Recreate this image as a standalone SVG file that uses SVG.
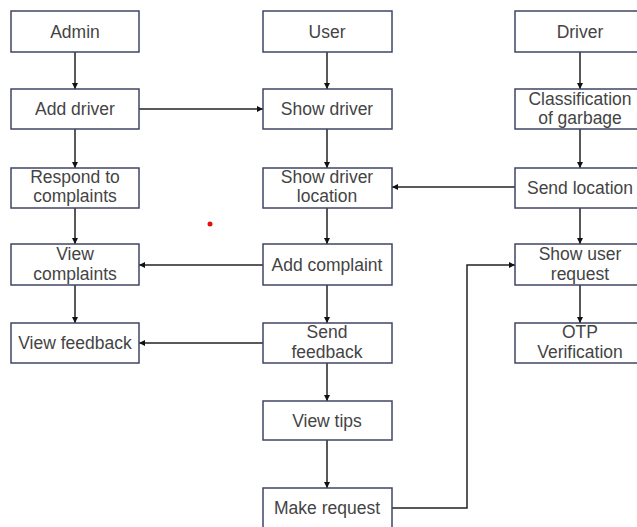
<svg xmlns="http://www.w3.org/2000/svg" width="637" height="527" viewBox="0 0 637 527">
<style>
.box{fill:#fff;stroke:#3f4566;stroke-width:1.5}
.t{font-family:"Liberation Sans",Arial,sans-serif;font-size:17.5px;fill:#444;text-anchor:middle}
.c{fill:none;stroke:#222;stroke-width:1.5;marker-end:url(#ah)}
</style>
<defs>
<marker id="ah" viewBox="0 0 10 10" refX="10" refY="5" markerWidth="6" markerHeight="6" markerUnits="userSpaceOnUse" orient="auto">
<path d="M0,0 L10,5 L0,10 z" fill="#111"/>
</marker>
</defs>
<rect width="637" height="527" fill="#fff"/>
<circle cx="210" cy="224" r="2.5" fill="#e01010"/>
<g id="connectors">
<path class="c" d="M75,52 V89"/>
<path class="c" d="M75,129 V168"/>
<path class="c" d="M75,208 V244"/>
<path class="c" d="M75,285 V323"/>
<path class="c" d="M139,109 H263"/>
<path class="c" d="M327,52 V89"/>
<path class="c" d="M327,129 V168"/>
<path class="c" d="M327,208 V244"/>
<path class="c" d="M327,285 V323"/>
<path class="c" d="M327,363 V401"/>
<path class="c" d="M327,440 V488"/>
<path class="c" d="M263,265 H139"/>
<path class="c" d="M263,343 H139"/>
<path class="c" d="M515,187 H392"/>
<path class="c" d="M392,508 H467 V265 H515"/>
<path class="c" d="M580,52 V89"/>
<path class="c" d="M580,129 V168"/>
<path class="c" d="M580,208 V244"/>
<path class="c" d="M580,285 V323"/>
</g>
<g id="admin"><rect class="box" x="11" y="11" width="128" height="41"/><text class="t" x="75" y="38">Admin</text></g>
<g id="add-driver"><rect class="box" x="11" y="89" width="128" height="40"/><text class="t" x="75" y="115">Add driver</text></g>
<g id="respond"><rect class="box" x="11" y="168" width="128" height="40"/><text class="t" x="75" y="183">Respond to</text><text class="t" x="75" y="202">complaints</text></g>
<g id="view-complaints"><rect class="box" x="11" y="244" width="128" height="41"/><text class="t" x="75" y="260">View</text><text class="t" x="75" y="280">complaints</text></g>
<g id="view-feedback"><rect class="box" x="11" y="323" width="128" height="40"/><text class="t" x="75" y="349">View feedback</text></g>
<g id="user"><rect class="box" x="263" y="11" width="129" height="41"/><text class="t" x="327" y="38">User</text></g>
<g id="show-driver"><rect class="box" x="263" y="89" width="129" height="40"/><text class="t" x="327" y="115">Show driver</text></g>
<g id="show-driver-location"><rect class="box" x="263" y="168" width="129" height="40"/><text class="t" x="327" y="183">Show driver</text><text class="t" x="327" y="202">location</text></g>
<g id="add-complaint"><rect class="box" x="263" y="244" width="129" height="41"/><text class="t" x="327" y="271">Add complaint</text></g>
<g id="send-feedback"><rect class="box" x="263" y="323" width="129" height="40"/><text class="t" x="327" y="338">Send</text><text class="t" x="327" y="358">feedback</text></g>
<g id="view-tips"><rect class="box" x="263" y="401" width="129" height="39"/><text class="t" x="327" y="427">View tips</text></g>
<g id="make-request"><rect class="box" x="263" y="488" width="129" height="40"/><text class="t" x="327" y="514">Make request</text></g>
<g id="driver"><rect class="box" x="515" y="11" width="130" height="41"/><text class="t" x="580" y="38">Driver</text></g>
<g id="classification"><rect class="box" x="515" y="89" width="130" height="40"/><text class="t" x="580" y="105">Classification</text><text class="t" x="580" y="124">of garbage</text></g>
<g id="send-location"><rect class="box" x="515" y="168" width="130" height="40"/><text class="t" x="580" y="194">Send location</text></g>
<g id="show-user-request"><rect class="box" x="515" y="244" width="130" height="41"/><text class="t" x="580" y="260">Show user</text><text class="t" x="580" y="280">request</text></g>
<g id="otp"><rect class="box" x="515" y="323" width="130" height="40"/><text class="t" x="580" y="338">OTP</text><text class="t" x="580" y="358">Verification</text></g>
</svg>
